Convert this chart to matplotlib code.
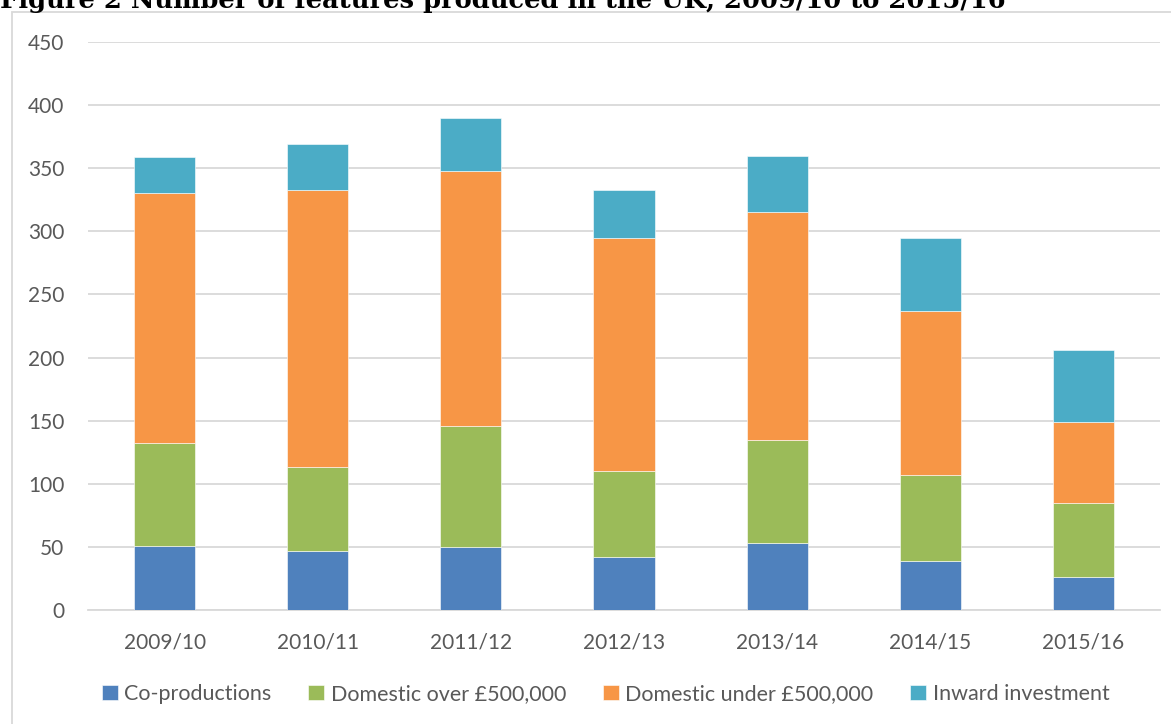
import numpy as np
import matplotlib.pyplot as plt
from matplotlib.patches import Rectangle

# Values
years = ['2009/10', '2010/11', '2011/12', '2012/13', '2013/14', '2014/15', '2015/16']
co_productions = [51, 47, 50, 42, 53, 39, 26]
domestic_over = [81, 66, 96, 68, 82, 68, 59]
domestic_under = [198, 220, 202, 185, 180, 130, 64]
inward_investment = [29, 36, 42, 38, 45, 58, 57]

series = [
    ('Co-productions', co_productions, '#4F81BD'),
    ('Domestic over £500,000', domestic_over, '#9BBB59'),
    ('Domestic under £500,000', domestic_under, '#F79646'),
    ('Inward investment', inward_investment, '#4BACC6'),
]

plt.rcParams['font.family'] = ['Lato', 'DejaVu Sans']

fig = plt.figure(figsize=(11.71, 7.24), dpi=100)

# outer chart frame (cut off on the right/bottom like the reference)
fig.patches.append(Rectangle((12 / 1171, -0.1), 1.2, 1 - 12 / 724 + 0.1,
                             transform=fig.transFigure, fill=False,
                             edgecolor='#d9d9d9', linewidth=1.3))

# title, partly cut off at the top as in the reference
fig.text(0.0, 1 - 8 / 724, 'Figure 2 Number of features produced in the UK, 2009/10 to 2015/16',
         family='DejaVu Serif', fontweight='bold', fontsize=18.5, ha='left',
         va='baseline', color='black')

ax = fig.add_axes([88 / 1171, 1 - 610 / 724, (1160 - 88) / 1171, (610 - 42) / 724])

x = np.arange(len(years))
bottom = np.zeros(len(years))
for name, vals, col in series:
    ax.bar(x, vals, width=0.4, bottom=bottom, color=col, label=name,
           edgecolor='white', linewidth=0.4, zorder=3)
    bottom += np.array(vals)

ax.set_xlim(-0.5, len(years) - 0.5)
ax.set_ylim(0, 450)
ax.set_yticks(np.arange(0, 451, 50))
ax.set_xticks(x)
ax.set_xticklabels(years)
ax.grid(axis='y', color='#d9d9d9', linewidth=1.3, zorder=0)
for s in ['top', 'right', 'left']:
    ax.spines[s].set_visible(False)
ax.spines['bottom'].set_color('#d9d9d9')
ax.spines['bottom'].set_linewidth(1.3)
ax.tick_params(axis='both', length=0, labelsize=15, labelcolor='#595959')
ax.tick_params(axis='y', pad=17)
ax.tick_params(axis='x', pad=16)

fig.legend(loc='center', bbox_to_anchor=(0.517, 1 - 694 / 724), ncol=4,
           frameon=False, fontsize=15.5, labelcolor='#595959',
           handlelength=0.75, handleheight=0.75, handletextpad=0.3,
           columnspacing=1.7)

fig.savefig('out.png', dpi=100)
